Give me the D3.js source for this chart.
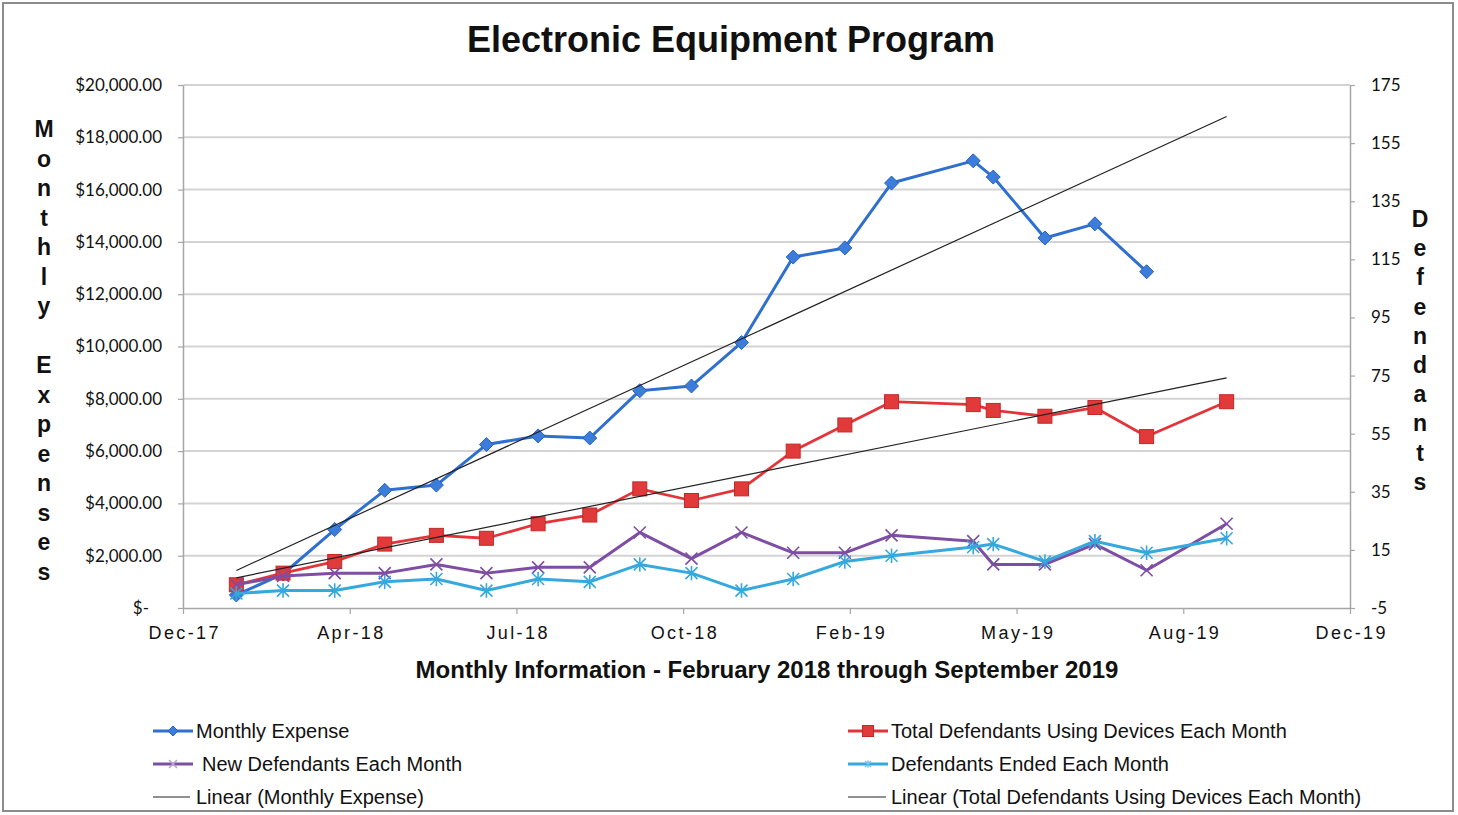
<!DOCTYPE html>
<html>
<head>
<meta charset="utf-8">
<script src="https://cdn.jsdelivr.net/npm/d3@7"></script>
<style>
  body { margin: 0; background: #fff; }
  svg { display: block; }
</style>
</head>
<body>
<div id="chart"></div>
<script>
// Data (dates are the plotted points)
const pointDates = ["2018-02-01", "2018-03-01", "2018-04-01", "2018-05-01", "2018-06-01", "2018-07-01",
  "2018-08-01", "2018-09-01", "2018-10-01", "2018-11-01", "2018-12-01", "2019-01-01", "2019-02-01",
  "2019-03-01", "2019-04-19", "2019-05-01", "2019-06-01", "2019-07-01", "2019-08-01", "2019-09-18"];
const monthlyExpense = [500, 1300, 3000, 4500, 4700, 6250, 6580, 6500, 8310, 8490, 10150, 13420, 13770,
  16250, 17100, 16480, 14150, 14690, 12860, null];
const totalDefendants = [3, 7, 11, 17, 20, 19, 24, 27, 36, 32, 36, 49, 58, 66, 65, 63, 61, 64, 54, 66];
const newDefendants = [3, 6, 7, 7, 10, 7, 9, 9, 21, 12, 21, 14, 14, 20, 18, 10, 10, 17, 8, 24];
const endedDefendants = [0, 1, 1, 4, 5, 1, 5, 4, 10, 7, 1, 5, 11, 13, 16, 17, 11, 18, 14, 19];

const leftTicks = [0, 2000, 4000, 6000, 8000, 10000, 12000, 14000, 16000, 18000, 20000];
const rightTicks = [-5, 15, 35, 55, 75, 95, 115, 135, 155, 175];
const xTicks = ["2017-12-31", "2018-04-10", "2018-07-19", "2018-10-27", "2019-02-04", "2019-05-15",
  "2019-08-23", "2019-12-01"];

const W = 1458, H = 815;
const plot = { left: 183, right: 1350, top: 85, bottom: 608 };

const parse = d3.utcParse("%Y-%m-%d");
const dates = pointDates.map(parse);

const svg = d3.select("#chart").append("svg")
  .attr("width", W)
  .attr("height", H);

// outer frame
svg.append("rect")
  .attr("x", 3).attr("y", 3)
  .attr("width", 1450).attr("height", 808)
  .attr("fill", "none")
  .attr("stroke", "#8c8c8c")
  .attr("stroke-width", 2);

const x = d3.scaleUtc()
  .domain([parse(xTicks[0]), parse(xTicks[xTicks.length - 1])])
  .range([plot.left, plot.right]);
const yL = d3.scaleLinear().domain([0, 20000]).range([plot.bottom, plot.top]);
const yR = d3.scaleLinear().domain([-5, 175]).range([plot.bottom, plot.top]);

// gridlines
svg.append("g")
  .selectAll("line")
  .data(leftTicks.slice(1))
  .enter()
  .append("line")
  .attr("x1", plot.left).attr("x2", plot.right)
  .attr("y1", d => yL(d)).attr("y2", d => yL(d))
  .attr("stroke", "#d3d3d3")
  .attr("stroke-width", 2);

// axes
const axisColor = "#a6a6a6";
const gL = svg.append("g")
  .attr("transform", `translate(${plot.left},0)`)
  .call(d3.axisLeft(yL).tickValues(leftTicks).tickSize(5).tickSizeOuter(0).tickPadding(16)
    .tickFormat(d => d === 0 ? "$-" : "$" + d3.format(",.2f")(d)));
gL.selectAll("text").filter(d => d === 0).attr("dx", -13);

const gR = svg.append("g")
  .attr("transform", `translate(${plot.right},0)`)
  .call(d3.axisRight(yR).tickValues(rightTicks).tickSize(5).tickSizeOuter(0).tickPadding(16)
    .tickFormat(d => String(d)));

const gB = svg.append("g")
  .attr("transform", `translate(0,${plot.bottom})`)
  .call(d3.axisBottom(x).tickValues(xTicks.map(parse)).tickSize(6).tickSizeOuter(0)
    .tickFormat(d3.utcFormat("%b-%y")));
gB.selectAll("text").attr("y", 18).attr("dx", 1.2);

[gL, gR].forEach(g => {
  g.selectAll("text")
    .style("font-family", "Lato, 'Open Sans', sans-serif")
    .style("font-size", "17px")
    .attr("fill", "#111");
});
gB.selectAll("text")
  .style("font-family", "'Liberation Sans', Arial, sans-serif")
  .style("font-size", "18px")
  .style("letter-spacing", "2.4px")
  .attr("fill", "#111");
[gL, gR, gB].forEach(g => {
  g.select(".domain").attr("stroke", axisColor).attr("stroke-width", 1.5);
  g.selectAll(".tick line").attr("stroke", axisColor).attr("stroke-width", 1.2);
});

// helpers
function trend(vals) {
  const pts = dates.map((d, i) => [+d, vals[i]]).filter(p => p[1] != null);
  const mx = d3.mean(pts, p => p[0]), my = d3.mean(pts, p => p[1]);
  const slope = d3.sum(pts, p => (p[0] - mx) * (p[1] - my)) / d3.sum(pts, p => (p[0] - mx) ** 2);
  return t => my + slope * (+t - mx);
}

function drawSeries(vals, y, color, width) {
  const line = d3.line()
    .defined(d => d[1] != null)
    .x(d => x(d[0]))
    .y(d => y(d[1]));
  svg.append("path")
    .datum(dates.map((d, i) => [d, vals[i]]))
    .attr("d", line)
    .attr("fill", "none")
    .attr("stroke", color)
    .attr("stroke-width", width)
    .attr("stroke-linejoin", "round");
  return dates.map((d, i) => ({ cx: x(d), cy: vals[i] == null ? null : y(vals[i]) })).filter(p => p.cy != null);
}

function drawTrend(vals, y) {
  const f = trend(vals);
  const d0 = dates[0], d1 = dates[dates.length - 1];
  svg.append("line")
    .attr("x1", x(d0)).attr("y1", y(f(d0)))
    .attr("x2", x(d1)).attr("y2", y(f(d1)))
    .attr("stroke", "#222")
    .attr("stroke-width", 1.2);
}

function diamond(g, cx, cy, r, fill) {
  g.append("path")
    .attr("d", `M${cx},${cy - r}L${cx + r},${cy}L${cx},${cy + r}L${cx - r},${cy}Z`)
    .attr("fill", fill)
    .attr("stroke", "#2a63b8")
    .attr("stroke-width", 1);
}
function square(g, cx, cy, s) {
  g.append("rect")
    .attr("x", cx - s / 2).attr("y", cy - s / 2)
    .attr("width", s).attr("height", s)
    .attr("fill", "#e03a3a")
    .attr("stroke", "#c62828")
    .attr("stroke-width", 1);
}
function cross(g, cx, cy, r, color) {
  g.append("path")
    .attr("d", `M${cx - r},${cy - r}L${cx + r},${cy + r}M${cx - r},${cy + r}L${cx + r},${cy - r}`)
    .attr("stroke", color)
    .attr("stroke-width", 1.6)
    .attr("fill", "none");
}
function star(g, cx, cy, r, color) {
  g.append("path")
    .attr("d", `M${cx - r},${cy - r}L${cx + r},${cy + r}M${cx - r},${cy + r}L${cx + r},${cy - r}M${cx},${cy - r * 1.2}L${cx},${cy + r * 1.2}`)
    .attr("stroke", color)
    .attr("stroke-width", 1.6)
    .attr("fill", "none");
}

const blue = "#2f6fcf", red = "#e3343a", purple = "#7d4ea3", cyan = "#35a8de";

// Monthly Expense (primary axis)
const bluePts = drawSeries(monthlyExpense, yL, blue, 3);
const gBlue = svg.append("g");
bluePts.forEach(p => diamond(gBlue, p.cx, p.cy, 7, "#3c7ddc"));
drawTrend(monthlyExpense, yL);

// secondary axis series
const redPts = drawSeries(totalDefendants, yR, red, 2.8);
const gRed = svg.append("g");
redPts.forEach(p => square(gRed, p.cx, p.cy, 14));

const purplePts = drawSeries(newDefendants, yR, purple, 3);
const gPur = svg.append("g");
purplePts.forEach(p => cross(gPur, p.cx, p.cy, 6, purple));

const cyanPts = drawSeries(endedDefendants, yR, cyan, 3);
const gCy = svg.append("g");
cyanPts.forEach(p => star(gCy, p.cx, p.cy, 6, cyan));

drawTrend(totalDefendants, yR);

// titles
const arial = "'Liberation Sans', Arial, sans-serif";
svg.append("text")
  .attr("x", 731).attr("y", 52)
  .attr("text-anchor", "middle")
  .style("font-family", arial)
  .style("font-size", "36px")
  .style("font-weight", "bold")
  .attr("fill", "#111")
  .text("Electronic Equipment Program");

svg.append("text")
  .attr("x", 767).attr("y", 678)
  .attr("text-anchor", "middle")
  .style("font-family", arial)
  .style("font-size", "24px")
  .style("font-weight", "bold")
  .attr("fill", "#111")
  .text("Monthly Information - February 2018 through September 2019");

// stacked axis titles
function stacked(str, cx, y0, step) {
  svg.append("g").selectAll("text")
    .data(str.split(""))
    .enter()
    .append("text")
    .attr("x", cx)
    .attr("y", (d, i) => y0 + i * step)
    .attr("text-anchor", "middle")
    .style("font-family", arial)
    .style("font-size", "23px")
    .style("font-weight", "bold")
    .attr("fill", "#111")
    .text(d => d);
}
stacked("Monthly Expenses", 44, 137, 29.5);
stacked("Defendants", 1420, 227, 29.2);

// legend
const legend = svg.append("g");
function legendText(tx, ty, label) {
  legend.append("text")
    .attr("x", tx).attr("y", ty)
    .style("font-family", arial)
    .style("font-size", "20px")
    .attr("fill", "#111")
    .text(label);
}
function legendLine(x1, x2, y, color, w) {
  legend.append("line")
    .attr("x1", x1).attr("x2", x2).attr("y1", y).attr("y2", y)
    .attr("stroke", color).attr("stroke-width", w);
}
legendLine(153, 193, 731, blue, 3);
diamond(legend, 173, 731, 5, "#3c7ddc");
legendText(196, 738, "Monthly Expense");

legendLine(848, 888, 731, red, 3);
square(legend, 868, 731, 11);
legendText(891, 738, "Total Defendants Using Devices Each Month");

legendLine(153, 193, 764, purple, 3);
cross(legend, 173, 764, 4, "#b9a5cf");
legendText(202, 771, "New Defendants Each Month");

legendLine(848, 888, 764, cyan, 3);
star(legend, 868, 764, 3, "#7cc4e8");
legendText(891, 771, "Defendants Ended Each Month");

legendLine(153, 190, 797, "#222", 1.2);
legendText(196, 804, "Linear (Monthly Expense)");

legendLine(848, 886, 797, "#222", 1.2);
legendText(891, 804, "Linear (Total Defendants Using Devices Each Month)");
</script>
</body>
</html>
